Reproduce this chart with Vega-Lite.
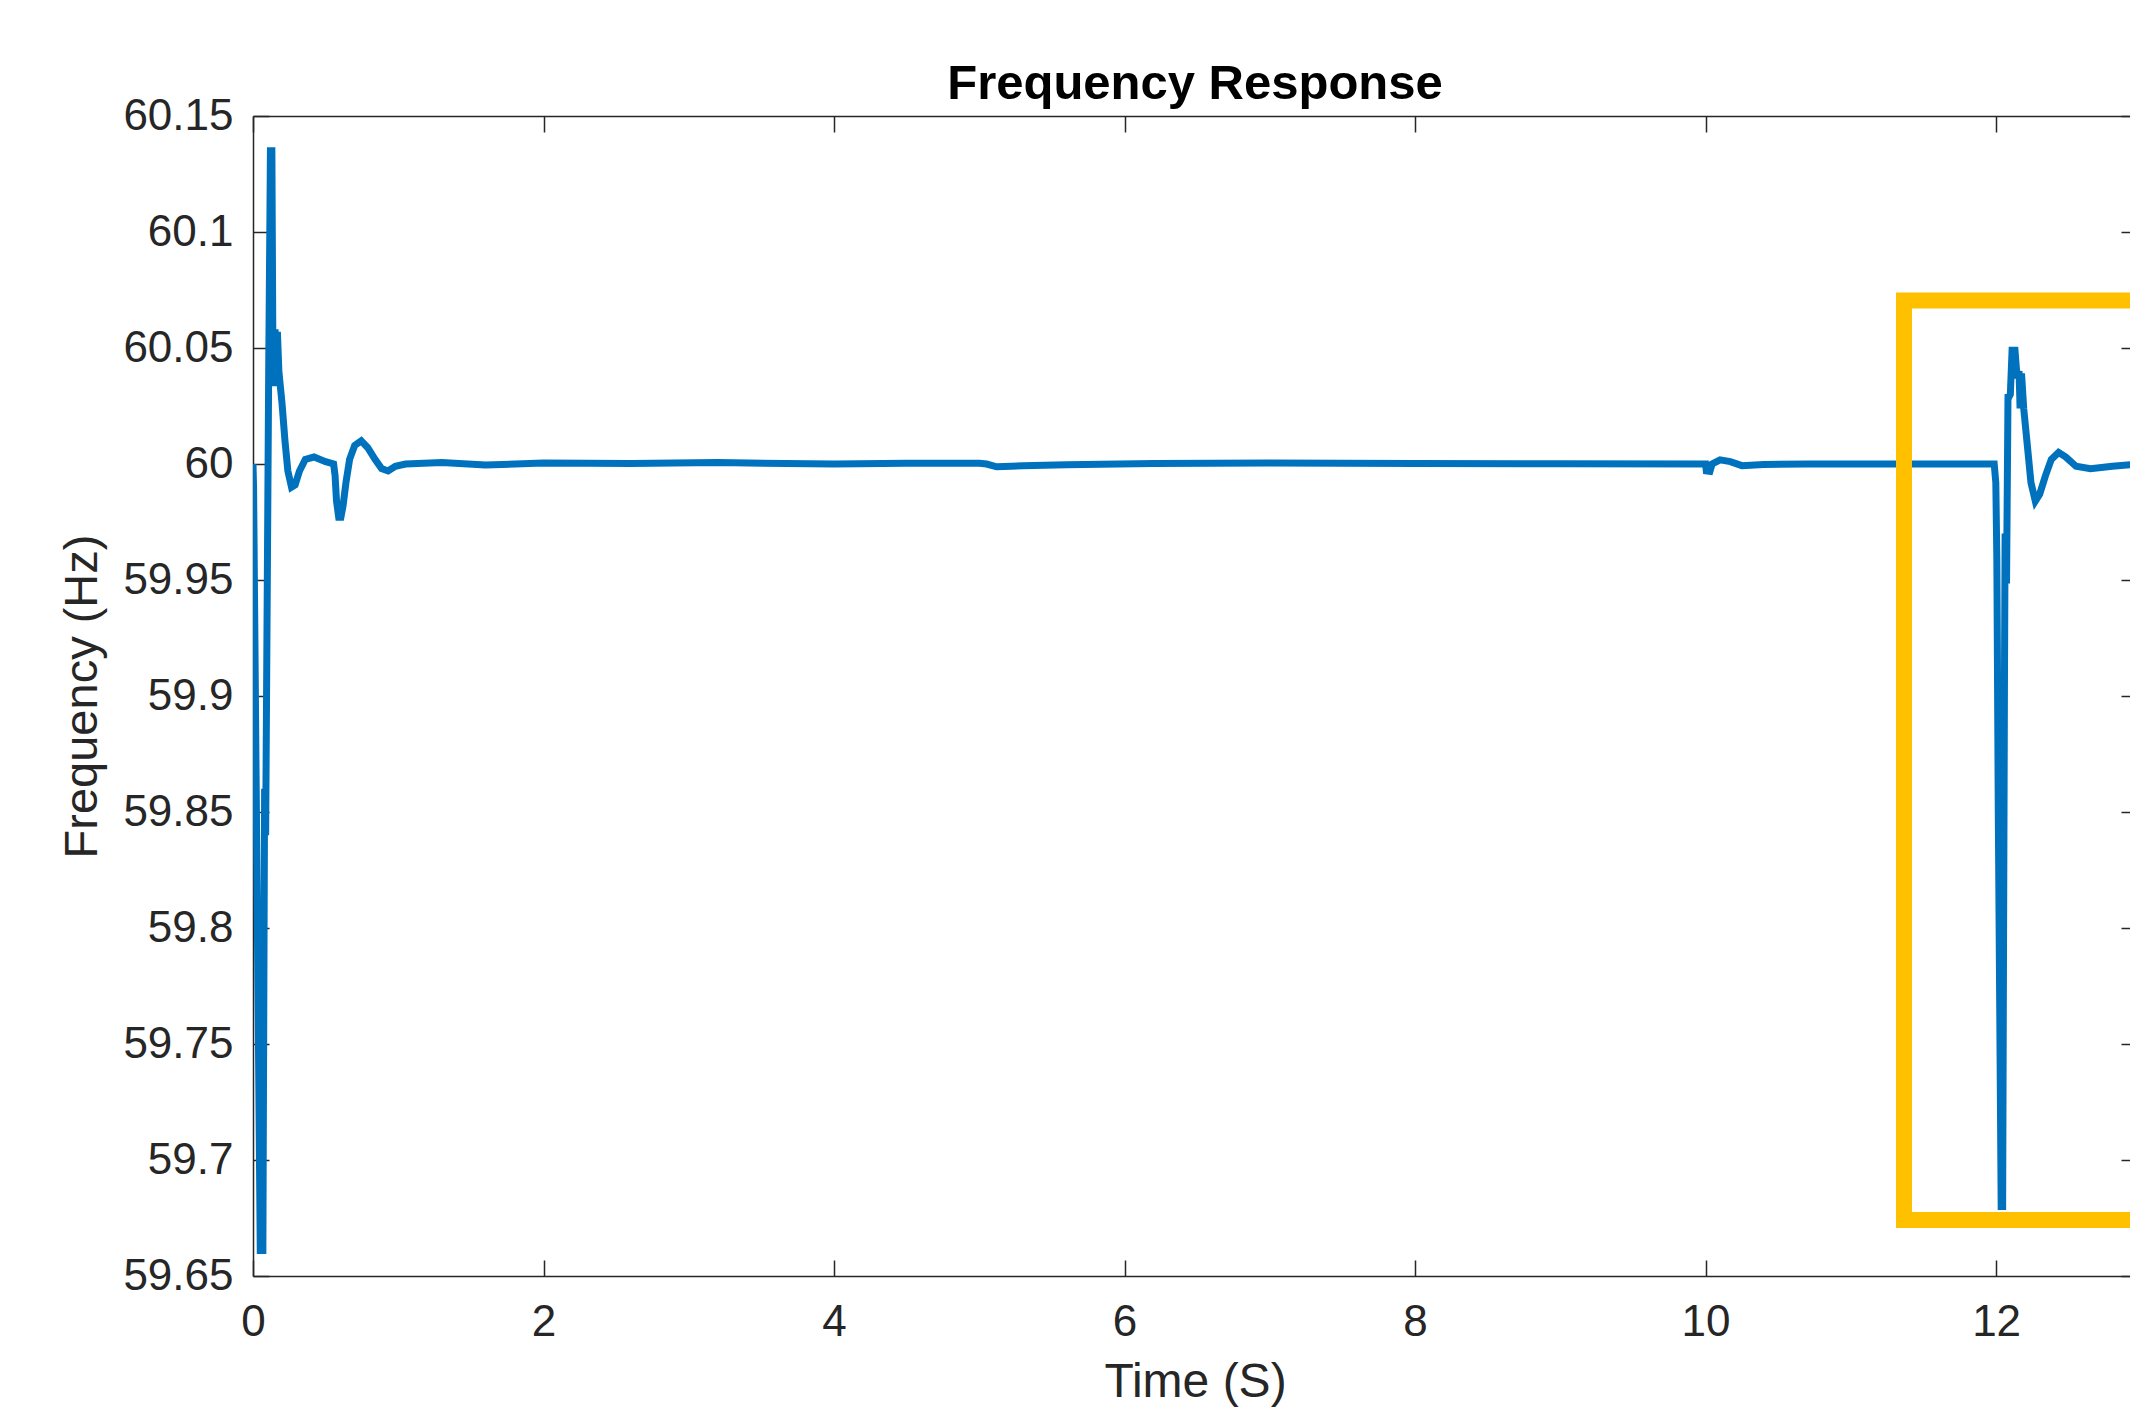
{
  "$schema": "https://vega.github.io/schema/vega-lite/v6.json",
  "width": 1884,
  "height": 1160,
  "autosize": {"type": "none"},
  "padding": {"left": 253, "top": 116, "right": 0, "bottom": 141},
  "background": "white",
  "config": {"view": {"stroke": null}, "font": "Liberation Sans"},
  "title": {"text": "Frequency Response", "fontSize": 49, "fontWeight": "bold", "color": "#000000", "font": "Liberation Sans", "anchor": "middle", "baseline": "alphabetic", "offset": -54},
  "datasets": {
    "freq": [
      {"t": 0, "f": 60.0},
      {"t": 0.004, "f": 59.99},
      {"t": 0.05, "f": 59.661},
      {"t": 0.068, "f": 59.661},
      {"t": 0.08, "f": 59.86},
      {"t": 0.087, "f": 59.84},
      {"t": 0.108, "f": 60.04},
      {"t": 0.12, "f": 60.135},
      {"t": 0.13, "f": 60.135},
      {"t": 0.138, "f": 60.035},
      {"t": 0.145, "f": 60.035},
      {"t": 0.152, "f": 60.058},
      {"t": 0.16, "f": 60.04},
      {"t": 0.168, "f": 60.057},
      {"t": 0.178, "f": 60.04},
      {"t": 0.2, "f": 60.026},
      {"t": 0.22, "f": 60.01},
      {"t": 0.24, "f": 59.997},
      {"t": 0.265, "f": 59.99},
      {"t": 0.29, "f": 59.991},
      {"t": 0.32, "f": 59.997},
      {"t": 0.36, "f": 60.002},
      {"t": 0.42, "f": 60.003},
      {"t": 0.5, "f": 60.001},
      {"t": 0.555, "f": 60.0},
      {"t": 0.565, "f": 59.995},
      {"t": 0.575, "f": 59.984},
      {"t": 0.59, "f": 59.977},
      {"t": 0.605, "f": 59.977},
      {"t": 0.62, "f": 59.982},
      {"t": 0.64, "f": 59.992},
      {"t": 0.665, "f": 60.002},
      {"t": 0.7, "f": 60.008},
      {"t": 0.745, "f": 60.01},
      {"t": 0.79, "f": 60.007},
      {"t": 0.84, "f": 60.002},
      {"t": 0.885, "f": 59.998},
      {"t": 0.93, "f": 59.997},
      {"t": 0.98, "f": 59.999},
      {"t": 1.05, "f": 60.0},
      {"t": 1.3, "f": 60.0006},
      {"t": 1.6, "f": 59.9996},
      {"t": 2.0, "f": 60.0004},
      {"t": 2.6, "f": 60.0002},
      {"t": 3.2, "f": 60.0006},
      {"t": 4.0, "f": 60.0},
      {"t": 4.5, "f": 60.0003},
      {"t": 5.0, "f": 60.0003},
      {"t": 5.05, "f": 60.0},
      {"t": 5.12, "f": 59.9988},
      {"t": 5.3, "f": 59.9992},
      {"t": 5.6, "f": 59.9997},
      {"t": 6.2, "f": 60.0002},
      {"t": 7.0, "f": 60.0004},
      {"t": 8.0, "f": 60.0002},
      {"t": 9.0, "f": 60.0001},
      {"t": 10.0, "f": 60.0},
      {"t": 10.005, "f": 59.997},
      {"t": 10.03, "f": 59.9968},
      {"t": 10.045, "f": 60.0},
      {"t": 10.1, "f": 60.0018},
      {"t": 10.17, "f": 60.001},
      {"t": 10.25, "f": 59.9993},
      {"t": 10.4, "f": 59.9998},
      {"t": 10.7, "f": 60.0},
      {"t": 11.0, "f": 60.0},
      {"t": 11.5, "f": 60.0},
      {"t": 11.987, "f": 60.0},
      {"t": 11.998, "f": 59.992},
      {"t": 12.005, "f": 59.96},
      {"t": 12.015, "f": 59.85},
      {"t": 12.035, "f": 59.68},
      {"t": 12.045, "f": 59.68},
      {"t": 12.058, "f": 59.913},
      {"t": 12.062, "f": 59.97},
      {"t": 12.066, "f": 59.95},
      {"t": 12.072, "f": 59.95},
      {"t": 12.082, "f": 60.03},
      {"t": 12.09, "f": 60.029},
      {"t": 12.098, "f": 60.03},
      {"t": 12.11, "f": 60.049},
      {"t": 12.13, "f": 60.049},
      {"t": 12.145, "f": 60.037},
      {"t": 12.158, "f": 60.04},
      {"t": 12.165, "f": 60.024},
      {"t": 12.175, "f": 60.039},
      {"t": 12.19, "f": 60.024},
      {"t": 12.215, "f": 60.008},
      {"t": 12.24, "f": 59.992},
      {"t": 12.27, "f": 59.984},
      {"t": 12.3, "f": 59.987},
      {"t": 12.34, "f": 59.995},
      {"t": 12.38, "f": 60.002},
      {"t": 12.43, "f": 60.005},
      {"t": 12.48, "f": 60.003},
      {"t": 12.55, "f": 59.999},
      {"t": 12.65, "f": 59.998},
      {"t": 12.8, "f": 59.999},
      {"t": 12.97, "f": 60.0}
    ],
    "box": [
      {"t0": 11.366, "t1": 14, "f0": 59.6741, "f1": 60.0705}
    ]
  },
  "layer": [
    {
      "data": {"name": "freq"},
      "mark": {"type": "line", "color": "#0072BD", "strokeWidth": 7, "strokeCap": "butt", "strokeJoin": "miter", "clip": true},
      "encoding": {
        "x": {"field": "t", "type": "quantitative",
          "scale": {"domain": [0, 12.97], "nice": false, "zero": false},
          "axis": {"orient": "bottom", "title": "Time (S)", "values": [0, 2, 4, 6, 8, 10, 12],
            "grid": false, "tickSize": -16, "tickColor": "#262626", "tickWidth": 1.5,
            "domainColor": "#262626", "domainWidth": 1.5, "labelFlush": false,
            "labelFontSize": 44, "labelColor": "#262626", "labelPadding": 40, "labelFont": "Liberation Sans",
            "titleFontSize": 48, "titleColor": "#262626", "titleFontWeight": "normal", "titleFont": "Liberation Sans", "titlePadding": 14}},
        "y": {"field": "f", "type": "quantitative",
          "scale": {"domain": [59.65, 60.15], "nice": false, "zero": false},
          "axis": {"orient": "left", "title": "Frequency (Hz)", "values": [59.65, 59.7, 59.75, 59.8, 59.85, 59.9, 59.95, 60, 60.05, 60.1, 60.15],
            "format": "~g", "grid": false, "tickSize": -16, "tickColor": "#262626", "tickWidth": 1.5,
            "domainColor": "#262626", "domainWidth": 1.5, "labelFlush": false,
            "labelFontSize": 44, "labelColor": "#262626", "labelPadding": 36, "labelFont": "Liberation Sans",
            "titleFontSize": 47, "titleColor": "#262626", "titleFontWeight": "normal", "titleFont": "Liberation Sans", "titlePadding": 16}}
      }
    },
    {
      "data": {"name": "box"},
      "mark": {"type": "rect", "fill": null, "stroke": "#FFC000", "strokeWidth": 16, "clip": true},
      "encoding": {
        "x": {"field": "t0", "type": "quantitative",
          "scale": {"domain": [0, 12.97], "nice": false, "zero": false},
          "axis": {"orient": "top", "title": null, "values": [0, 2, 4, 6, 8, 10, 12], "labels": false, "grid": false,
            "tickSize": -16, "tickColor": "#262626", "tickWidth": 1.5, "domainColor": "#262626", "domainWidth": 1.5}},
        "x2": {"field": "t1"},
        "y": {"field": "f0", "type": "quantitative",
          "scale": {"domain": [59.65, 60.15], "nice": false, "zero": false},
          "axis": {"orient": "right", "title": null, "values": [59.65, 59.7, 59.75, 59.8, 59.85, 59.9, 59.95, 60, 60.05, 60.1, 60.15], "labels": false, "grid": false,
            "tickSize": -16, "tickColor": "#262626", "tickWidth": 1.5, "domainColor": "#262626", "domainWidth": 1.5}},
        "y2": {"field": "f1"}
      }
    }
  ],
  "resolve": {"axis": {"x": "independent", "y": "independent"}}
}
